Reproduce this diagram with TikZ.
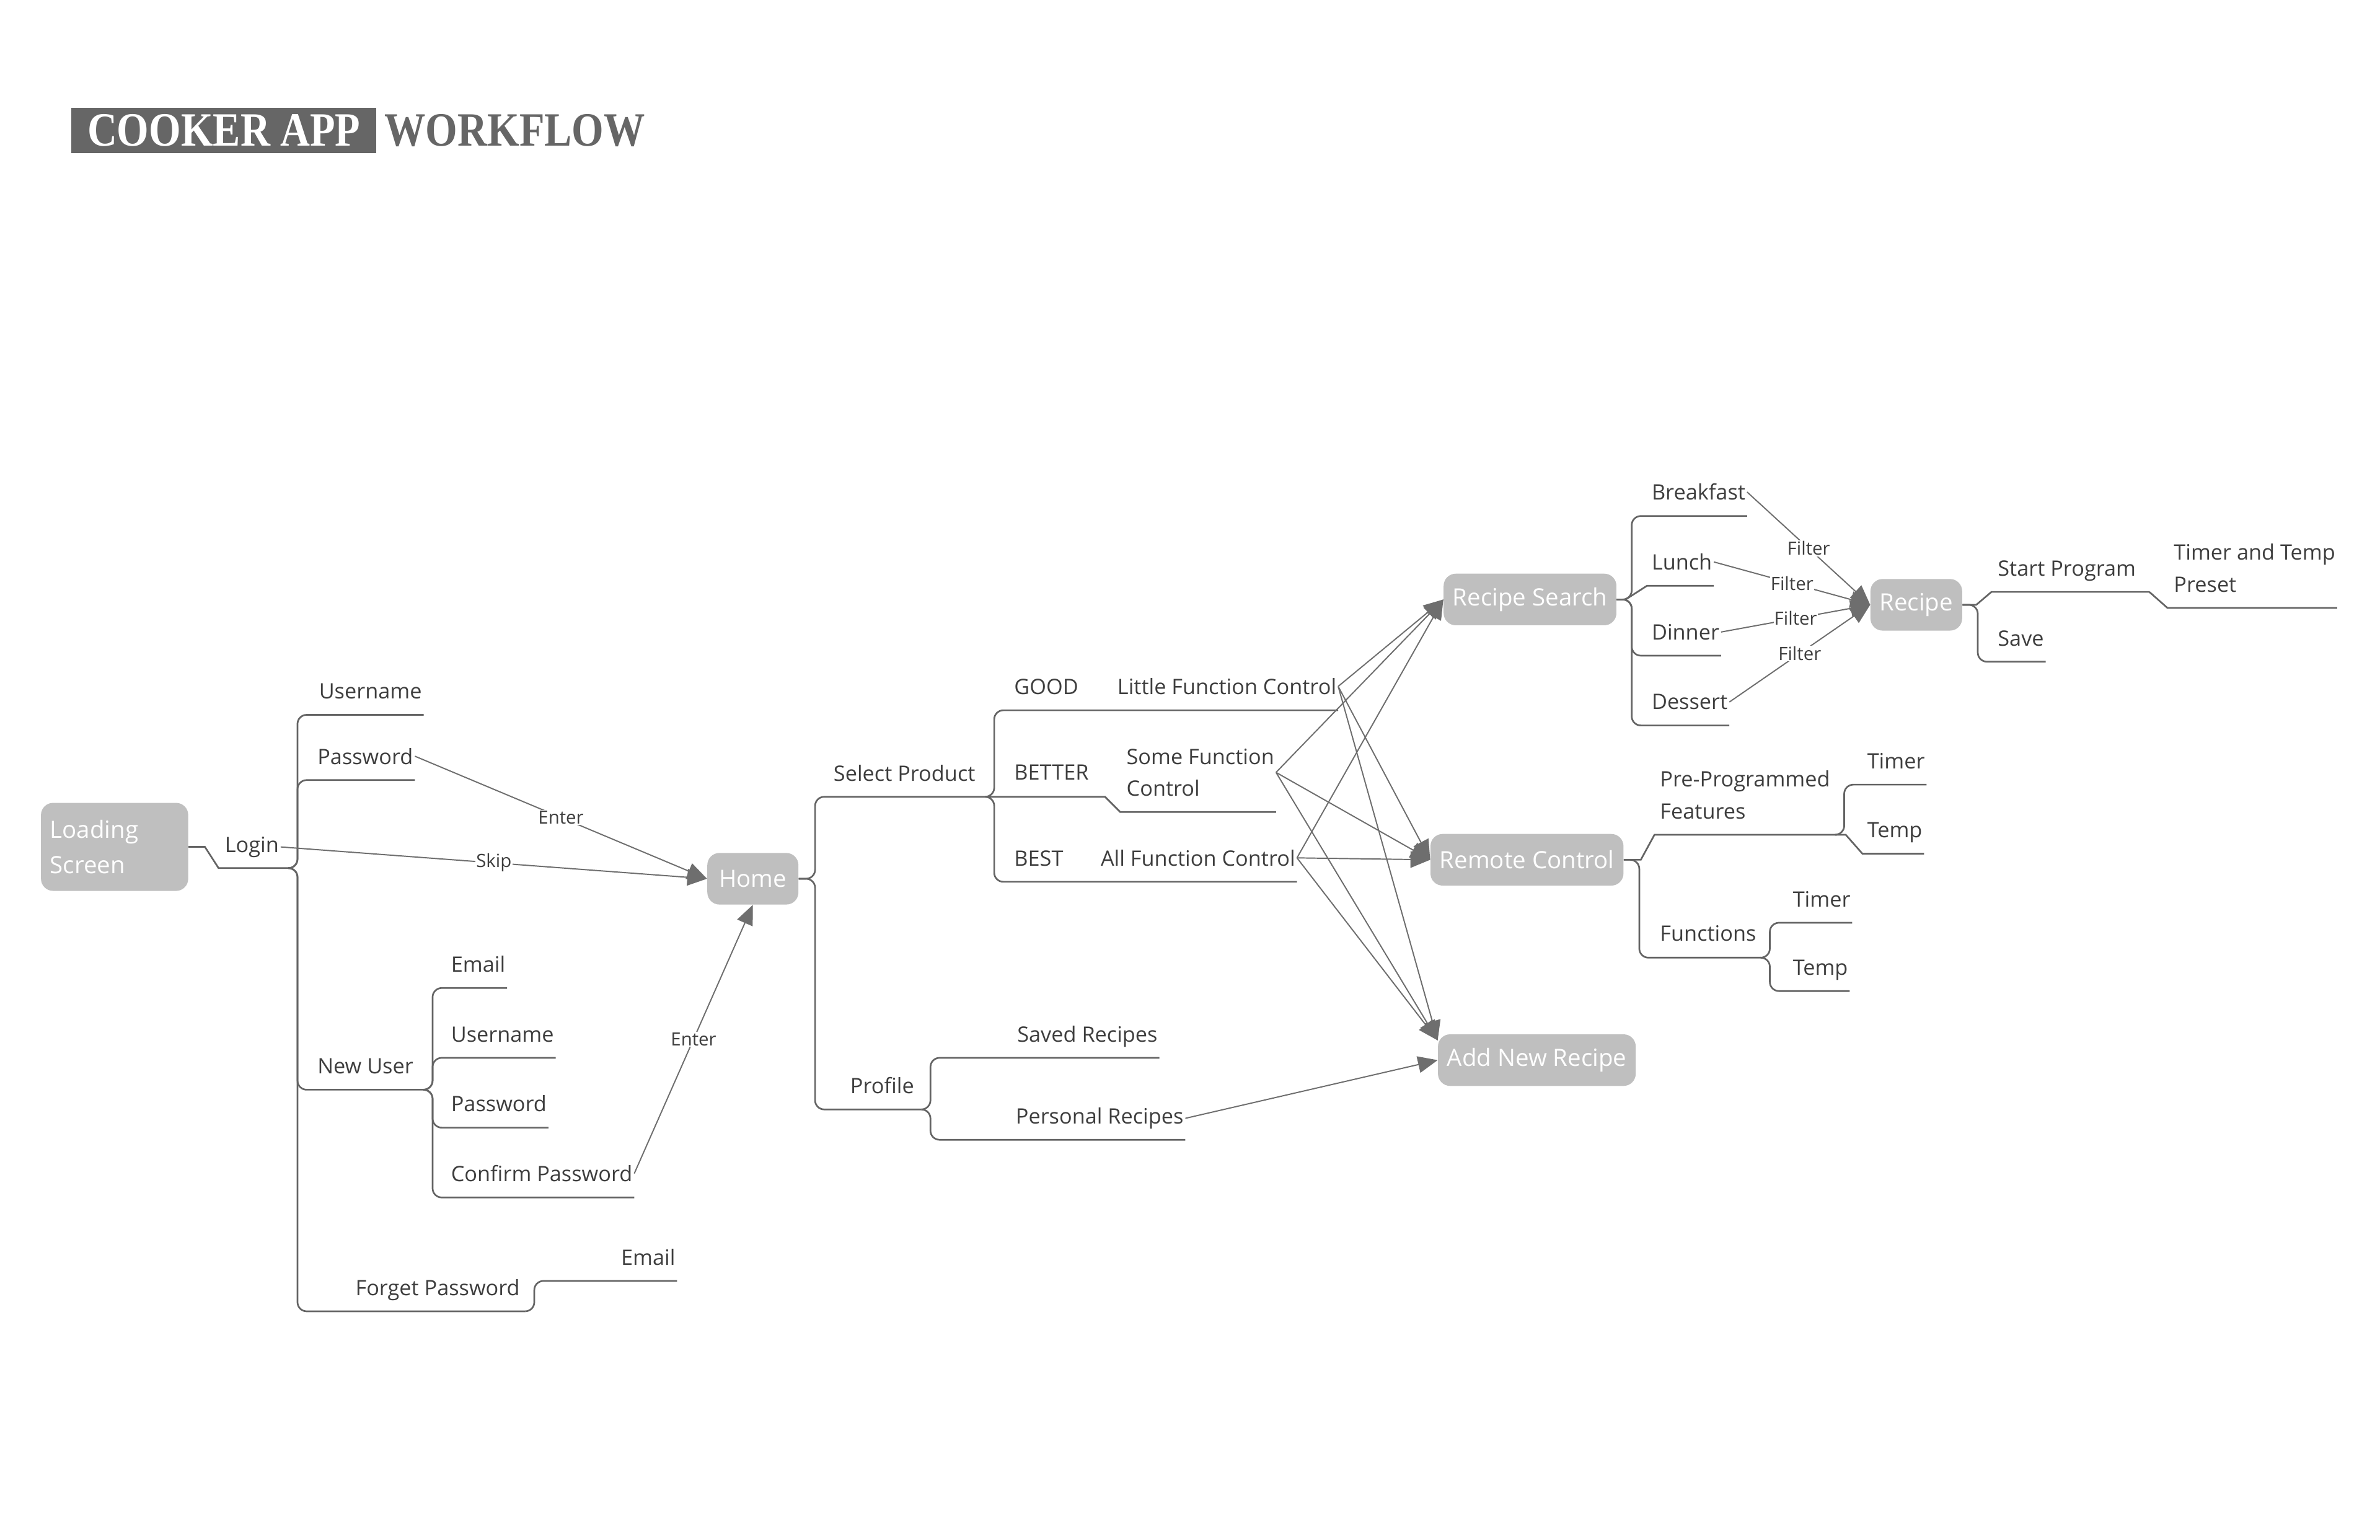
\documentclass[tikz,border=0pt]{standalone}
\usepackage{fontspec}
\setmainfont{Open Sans}
\newfontfamily\ttlfont[FakeStretch=0.86]{Liberation Serif}
\usetikzlibrary{arrows.meta}
\definecolor{boxgray}{RGB}{191,191,191}
\definecolor{linegray}{RGB}{100,100,100}
\definecolor{arrowgray}{RGB}{110,110,110}
\definecolor{txtgray}{RGB}{62,62,62}
\definecolor{ttlgray}{RGB}{102,102,102}
\newcommand{\labfont}{\fontsize{14}{21}\selectfont}
\newcommand{\boxfont}{\fontsize{15.7}{23}\selectfont}
\newcommand{\flowfont}{\fontsize{12}{14}\selectfont}

\begin{document}
\begin{tikzpicture}[x=1pt, y=-1pt,
    box/.style={fill=boxgray, rounded corners=8pt, text=white, font=\boxfont, inner xsep=6pt, minimum height=34pt},
    leaf/.style={anchor=base west, inner sep=1pt, text=txtgray, font=\labfont},
    kink/.style={draw=linegray, line width=1.1pt},
    branch/.style={kink, rounded corners=6pt},
    flow/.style={draw=arrowgray, line width=0.8pt, -{Triangle[length=13pt,width=11pt]}},
    flowlab/.style={fill=white, inner sep=0.5pt, text=txtgray, font=\flowfont}]

        % Page
        \fill[white] (0,0) rectangle (1568,1014.7);

        % Title
        \node[fill=ttlgray, text=white, font=\ttlfont\bfseries\fontsize{31.5}{34}\selectfont, minimum width=201pt, minimum height=30pt, inner sep=0pt] (ttl) at (147.5,86) {COOKER APP};
        \node[text=ttlgray, font=\ttlfont\bfseries\fontsize{31.5}{34}\selectfont, anchor=west, inner sep=0pt] (wf) at ([xshift=5pt]ttl.east) {WORKFLOW};

        % Loading screen and login
        \node[box, text width=85pt, align=left, minimum height=58pt] (ls) at (75.5,558) {Loading\\Screen};
        \node[leaf] (login) at (147,561.5) {Login};
        \node[leaf] (uname) at (209,460.5) {Username};
        \node[leaf] (pwd) at (208,503.5) {Password};
        \node[leaf] (newuser) at (208,707.5) {New User};
        \node[leaf] (forget) at (233,853.5) {Forget Password};
        \node[leaf] (fpmail) at (408,833.5) {Email};
        \coordinate (jlogin) at (190,572);
        \coordinate (jnew) at (279,718);
        \coordinate (jforget) at (346,864);
        \draw[kink] (ls.east) -- (135,558) -- (144,572) -- (jlogin);
        \draw[branch] (jlogin) -| (196,471) -- (uname.east |- 0,471);
        \draw[branch] (jlogin) -| (196,514) -- (pwd.east |- 0,514);
        \draw[branch] (jlogin) -| (196,718) -- (jnew);
        \draw[branch] (jlogin) -| (196,864) -- (jforget);
        \draw[branch] (jforget) -| (352,844) -- (fpmail.east |- 0,844);

        % New user
        \node[leaf] (numail) at (296,640.5) {Email};
        \node[leaf] (nuname) at (296,686.5) {Username};
        \node[leaf] (nupwd) at (296,732.5) {Password};
        \node[leaf] (nuconf) at (296,778.5) {Confirm Password};
        \draw[branch] (jnew) -| (285,651) -- (numail.east |- 0,651);
        \draw[branch] (jnew) -| (285,697) -- (nuname.east |- 0,697);
        \draw[branch] (jnew) -| (285,743) -- (nupwd.east |- 0,743);
        \draw[branch] (jnew) -| (285,789) -- (nuconf.east |- 0,789);

        % Home
        \node[box, minimum width=60pt] (home) at (496,579) {Home};
        \draw[flow] (pwd.east) -- node[flowlab] {Enter} (home.west);
        \draw[flow] (login.east) -- node[flowlab] {Skip} (home.west);
        \draw[flow] (nuconf.east) -- node[flowlab] {Enter} (home.south);

        % Select product and profile
        \node[leaf] (selprod) at (548,514.5) {Select Product};
        \node[leaf] (profile) at (559,720.5) {Profile};
        \node[leaf] (good) at (667,457.5) {GOOD};
        \node[leaf] (lfc) at (735,457.5) {Little Function Control};
        \node[leaf] (better) at (667,514) {BETTER};
        \node[leaf, align=left] (sfc) at (741,524.5) {Some Function\\Control};
        \node[leaf] (best) at (667,570.5) {BEST};
        \node[leaf] (afc) at (724,570.5) {All Function Control};
        \node[leaf] (saved) at (669,686.5) {Saved Recipes};
        \node[leaf] (personal) at (668,740.5) {Personal Recipes};
        \coordinate (jsel) at (650,525);
        \coordinate (jprof) at (607,731);
        \draw[branch] (home.east) -| (537,525) -- (jsel);
        \draw[branch] (home.east) -| (537,731) -- (jprof);
        \draw[branch] (jsel) -| (655,468) -- (lfc.east |- 0,468);
        \draw[kink] (jsel) -- (728,525) -- (738,535) -- (sfc.east |- 0,535);
        \draw[branch] (jsel) -| (655,581) -- (afc.east |- 0,581);
        \draw[branch] (jprof) -| (613,697) -- (saved.east |- 0,697);
        \draw[branch] (jprof) -| (613,751) -- (personal.east |- 0,751);

        % Targets
        \node[box] (rsearch) at (1008,395) {Recipe Search};
        \node[box] (rctrl) at (1006,566.5) {Remote Control};
        \node[box] (addnew) at (1012.5,698.5) {Add New Recipe};
        \node[box] (recipe) at (1262.5,398.5) {Recipe};
        \draw[flow] (lfc.east) -- (rsearch.west);
        \draw[flow] (lfc.east) -- (rctrl.west);
        \draw[flow] (lfc.east) -- ([yshift=13pt]addnew.west);
        \draw[flow] (sfc.east) -- (rsearch.west);
        \draw[flow] (sfc.east) -- (rctrl.west);
        \draw[flow] (sfc.east) -- ([yshift=13pt]addnew.west);
        \draw[flow] (afc.east) -- (rsearch.west);
        \draw[flow] (afc.east) -- (rctrl.west);
        \draw[flow] (afc.east) -- ([yshift=13pt]addnew.west);
        \draw[flow] (personal.east) -- (addnew.west);

        % Recipe search
        \node[leaf] (breakfast) at (1087,329.5) {Breakfast};
        \node[leaf] (lunch) at (1087,375.5) {Lunch};
        \node[leaf] (dinner) at (1087,421.5) {Dinner};
        \node[leaf] (dessert) at (1087,467.5) {Dessert};
        \draw[branch] (rsearch.east) -| (1075,340) -- (breakfast.east |- 0,340);
        \draw[kink] (rsearch.east) -- (1071,395) -- (1085,386) -- (lunch.east |- 0,386);
        \draw[branch] (rsearch.east) -| (1075,432) -- (dinner.east |- 0,432);
        \draw[branch] (rsearch.east) -| (1075,478) -- (dessert.east |- 0,478);
        \draw[flow] (breakfast.east) -- node[flowlab] {Filter} (recipe.west);
        \draw[flow] (lunch.east) -- node[flowlab] {Filter} (recipe.west);
        \draw[flow] (dinner.east) -- node[flowlab] {Filter} (recipe.west);
        \draw[flow] (dessert.east) -- node[flowlab] {Filter} (recipe.west);

        % Recipe
        \node[leaf] (startprog) at (1315,379.5) {Start Program};
        \node[leaf, align=left] (timetemp) at (1431,390) {Timer and Temp\\Preset};
        \node[leaf] (save) at (1315,425.5) {Save};
        \coordinate (jstart) at (1416,390);
        \draw[kink] (recipe.east) -- (1302,398.5) -- (1312,390) -- (jstart);
        \draw[kink] (jstart) -- (1428,400.6) -- (timetemp.east |- 0,400.6);
        \draw[branch] (recipe.east) -| (1303,436) -- (save.east |- 0,436);

        % Remote control
        \node[leaf, align=left] (preprog) at (1092.5,539.5) {Pre-Programmed\\Features};
        \node[leaf] (pptimer) at (1229,506.5) {Timer};
        \node[leaf] (pptemp) at (1229,552) {Temp};
        \node[leaf] (funcs) at (1092.5,620) {Functions};
        \node[leaf] (fntimer) at (1180,597.5) {Timer};
        \node[leaf] (fntemp) at (1180,642.5) {Temp};
        \coordinate (jpre) at (1210,550);
        \coordinate (jfun) at (1160,631);
        \draw[kink] (rctrl.east) -- (1081,566.5) -- (1090,550) -- (jpre);
        \draw[branch] (rctrl.east) -| (1080,631) -- (jfun);
        \draw[branch] (jpre) -| (1215,517) -- (pptimer.east |- 0,517);
        \draw[kink] (jpre) -- (1216,550) -- (1227,562.5) -- (pptemp.east |- 0,562.5);
        \draw[branch] (jfun) -| (1166,608) -- (fntimer.east |- 0,608);
        \draw[branch] (jfun) -| (1166,653) -- (fntemp.east |- 0,653);

\end{tikzpicture}
\end{document}
